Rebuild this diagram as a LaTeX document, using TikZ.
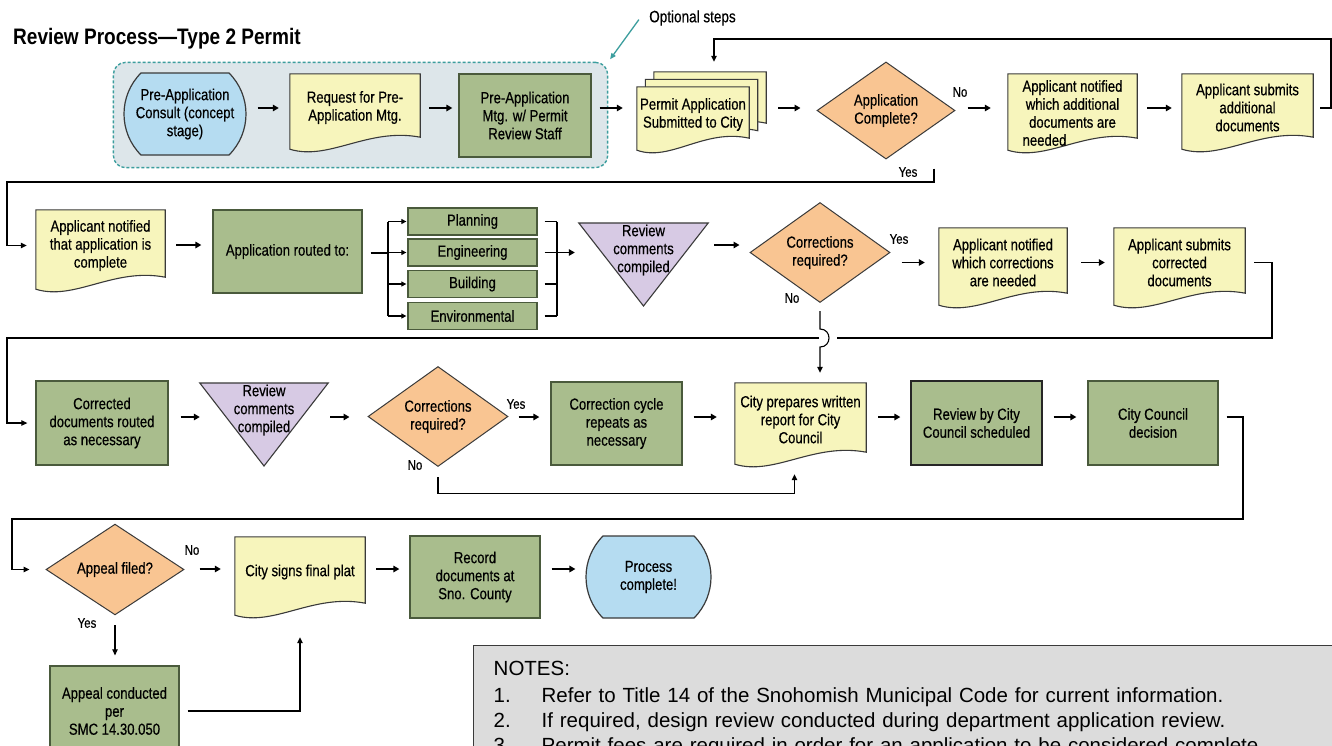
\documentclass[tikz,border=0pt]{standalone}
\usepackage{fontspec}
\setmainfont{Liberation Sans}
\newfontfamily\narrowfont[FakeStretch=0.82,FakeBold=0.5]{Liberation Sans}
\newfontfamily\headfont[FakeStretch=0.85]{Liberation Sans}
\usetikzlibrary{shapes.geometric, shapes.misc, arrows.meta, fit, calc}

\definecolor{termfill}{HTML}{B5DCF1}
\definecolor{docfill}{HTML}{F7F5BC}
\definecolor{procfill}{HTML}{A9BD8D}
\definecolor{procline}{HTML}{4A5A3C}
\definecolor{decfill}{HTML}{F9C592}
\definecolor{trifill}{HTML}{D7CAE4}
\definecolor{optfill}{HTML}{DDE6EA}
\definecolor{optline}{HTML}{3C9E9E}
\definecolor{notefill}{HTML}{DCDCDC}
\definecolor{inkline}{HTML}{3A3A3A}

\pgfdeclarelayer{back}
\pgfdeclarelayer{shapes}
\pgfsetlayers{back,shapes,main}

\tikzstyle{box text}=[font=\narrowfont\fontsize{16}{18}\selectfont, align=center, inner sep=1pt]
\tikzstyle{proc}=[box text, draw=procline, fill=procfill, line width=1.3pt]
\tikzstyle{term}=[box text, rounded rectangle, rounded rectangle arc length=90,
        draw=inkline, fill=termfill, line width=1.2pt]
\tikzstyle{decision}=[box text, diamond, draw=inkline, fill=decfill, line width=1pt, inner sep=0pt]
\tikzstyle{doc}=[box text]
\tikzstyle{tri}=[box text, inner xsep=0pt]
\tikzstyle{docshape}=[draw=inkline, fill=docfill, line width=1.1pt]
\tikzstyle{trishape}=[draw=inkline, fill=trifill, line width=1.1pt]
\tikzstyle{tag}=[font=\narrowfont\fontsize{14}{15}\selectfont, inner sep=1pt]

% document outline with a wavy foot, drawn under the node
\newcommand{\docback}[2][0]{%
  \begin{pgfonlayer}{shapes}
    \filldraw[docshape] (#2.north west) -- (#2.north east)
      -- ([yshift=4pt+#1pt]#2.south east)
      .. controls ($(#2.south west)!0.6!(#2.south east)+(0,-14-#1)$)
      and ($(#2.south west)!0.3!(#2.south east)+(0,20-#1)$)
      .. ([yshift=-8pt+#1pt]#2.south west) -- cycle;
  \end{pgfonlayer}}
% downward triangle round a text node
\newcommand{\triback}[1]{%
  \begin{pgfonlayer}{shapes}
    \filldraw[trishape] ([yshift=27pt]#1.west) -- ([yshift=27pt]#1.east)
      -- ([yshift=-56pt]#1.center) -- cycle;
  \end{pgfonlayer}}

\begin{document}
\begin{tikzpicture}[x=1pt, y=-1pt,
    flow/.style={-{Triangle[length=6pt,width=6.5pt]}, line width=1.8pt,
        shorten <=11pt, shorten >=11pt},
    wire/.style={line width=1.1pt},
    feed/.style={wire, -{Triangle[length=5pt,width=5pt]}, shorten >=1pt},
    backline/.style={wire, -{Triangle[length=6pt,width=5.5pt]}, shorten >=3pt},
    optbox/.style={draw=optline, fill=optfill, line width=1.4pt,
        dash pattern=on 3pt off 2pt, rounded corners=12pt,
        inner xsep=10pt, inner ysep=10pt},
    notebox/.style={draw=inkline, fill=notefill, line width=1.4pt, align=left,
        font=\fontsize{20.5}{25}\selectfont, text width=870pt,
        inner xsep=20pt, inner ysep=15pt}]
    \useasboundingbox (0,0) rectangle (1332,745);
    \begin{pgfonlayer}{back}
        \fill[white] (0,0) rectangle (1332,745);
    \end{pgfonlayer}

    \node[anchor=base west, inner sep=0pt,
        font=\headfont\bfseries\fontsize{22.4}{26}\selectfont] (title) at (13,44)
        {Review Process—Type 2 Permit};

    % row coordinates
    \coordinate (rowA) at (0,108);
    \coordinate (rowB) at (0,245);
    \coordinate (rowC) at (0,417);
    \coordinate (rowD) at (0,569);

    % first row
    \node[term, minimum width=124, minimum height=82] (pre) at (185,114) {Pre-Application\\Consult (concept\\stage)};
    \node[doc, minimum width=130, minimum height=67] (req) at (355,107.5) {Request for Pre-\\Application Mtg.};
    \node[proc, minimum width=132, minimum height=83] (mtg) at (525,115.5) {Pre-Application\\Mtg. w/ Permit\\Review Staff};
    \node[doc, minimum width=112, minimum height=55] (sub3) at (710,99.5) {};
    \node[doc, minimum width=112, minimum height=55] (sub2) at (701.5,107) {};
    \node[doc, minimum width=112, minimum height=55] (sub) at (693,114.5) {Permit Application\\Submitted to City};
    \node[decision, minimum width=138, minimum height=95] (comp) at (886,110.5) {Application\\Complete?};
    \node[doc, minimum width=129, minimum height=78] (addN) at (1072.5,113) {Applicant notified\\which additional\\documents are\\needed\hspace*{56pt}};
    \node[doc, minimum width=131, minimum height=67] (addS) at (1247.5,107.5) {Applicant submits\\additional\\documents};
    \docback{req}
    \docback{sub3}
    \docback{sub2}
    \docback{sub}
    \docback[10]{addN}
    \docback{addS}

    \coordinate (mtgR) at ([xshift=6pt]mtg.east);
    \begin{pgfonlayer}{back}
        \node[optbox, fit=(pre)(mtg)(mtgR)] (opt) {};
    \end{pgfonlayer}
    \node[tag, font=\narrowfont\fontsize{16.5}{17}\selectfont] (optl) at (692.5,18) {Optional steps};
    \draw[optline, line width=1.3pt, -{Triangle[length=6pt,width=5pt]}, shorten <=2pt, shorten >=3pt]
        ([xshift=-8pt]optl.west) -- (opt.north east);

    % second row
    \node[doc, minimum width=129, minimum height=71] (okN) at (100.5,245.5) {Applicant notified\\that application is\\complete};
    \node[proc, minimum width=149, minimum height=83] (route) at (287.5,251.5) {Application routed to:};
    \node[proc, minimum width=129, minimum height=27] (plan) at (472.5,221.5) {Planning};
    \node[proc, minimum width=129, minimum height=27] (eng) at (472.5,252.5) {Engineering};
    \node[proc, minimum width=129, minimum height=27] (bld) at (472.5,284) {Building};
    \node[proc, minimum width=129, minimum height=27] (env) at (472.5,316) {Environmental};
    \node[tri, minimum width=129] (revA) at (643.5,250) {Review\\comments\\compiled};
    \node[decision, minimum width=140, minimum height=85] (fixQ) at (820,252.5) {Corrections\\required?};
    \node[doc, minimum width=128, minimum height=69] (fixN) at (1003,262.5) {Applicant notified\\which corrections\\are needed};
    \node[doc, minimum width=131, minimum height=69] (fixS) at (1179.5,262.5) {Applicant submits\\corrected\\documents};
    \docback{okN}
    \triback{revA}
    \docback{fixN}
    \docback{fixS}

    % third row
    \node[proc, minimum width=132, minimum height=84] (cdoc) at (102,423) {Corrected\\documents routed\\as necessary};
    \node[tri, minimum width=128] (revB) at (264,410) {Review\\comments\\compiled};
    \node[decision, minimum width=140, minimum height=83] (fixR) at (438,416.5) {Corrections\\required?};
    \node[proc, minimum width=131, minimum height=83] (recyc) at (616.5,423.5) {Correction cycle\\repeats as\\necessary};
    \node[doc, minimum width=131, minimum height=73] (report) at (800.5,419.5) {City prepares written\\report for City\\Council};
    \node[proc, draw=black!85, minimum width=131, minimum height=84] (sched) at (976.5,423) {Review by City\\Council scheduled};
    \node[proc, minimum width=130, minimum height=84] (decide) at (1153,423) {City Council\\decision};
    \triback{revB}
    \docback{report}

    % fourth row
    \node[decision, minimum width=138, minimum height=85] (appeal) at (115,569.5) {Appeal filed?};
    \node[doc, minimum width=130, minimum height=70] (sign) at (300,572) {City signs final plat};
    \node[proc, minimum width=130, minimum height=82] (record) at (475,577) {Record\\documents at\\Sno. County};
    \node[term, minimum width=127, minimum height=82] (done) at (648.5,577) {Process\\complete!};
    \node[proc, minimum width=129, minimum height=90] (apc) at (114.5,711) {Appeal conducted\\per\\SMC 14.30.050};
    \docback{sign}

    % yes / no
    \node[tag] (noA) at (960,92) {No};
    \node[tag] (yesA) at (908,172) {Yes};
    \node[tag] (yesB) at (899,239) {Yes};
    \node[tag] (noB) at (792,298) {No};
    \node[tag] (yesC) at (516,404) {Yes};
    \node[tag] (noC) at (415,465) {No};
    \node[tag] (noD) at (192,550) {No};
    \node[tag] (yesD) at (87,623) {Yes};

    % notes
    \node[notebox, anchor=north west] (notes) at (473,645) {NOTES:\\[2pt]
        \makebox[48pt][l]{1.}Refer to Title 14 of the Snohomish Municipal Code for current information.\\
        \makebox[48pt][l]{2.}If required, design review conducted during department application review.\\
        \makebox[48pt][l]{3.}Permit fees are required in order for an application to be considered complete.};

    % first row arrows
    \draw[flow] (pre.east |- rowA) -- (req.west |- rowA);
    \draw[flow, shorten <=9pt, shorten >=6pt] (req.east |- rowA) -- (mtg.west |- rowA);
    \draw[flow, shorten <=8pt, shorten >=14pt] (mtg.east |- rowA) -- (sub.west |- rowA);
    \draw[flow, shorten <=12pt, shorten >=16pt] (sub3.east |- rowA) -- (comp.west |- rowA);
    \draw[flow, shorten <=12pt, shorten >=17pt] (comp.east |- rowA) -- (addN.west |- rowA);
    \draw[flow, shorten <=10pt, shorten >=10pt] (addN.east |- rowA) -- (addS.west |- rowA);
    \coordinate (loopA) at (1331,39);
    \draw[backline, shorten <=7pt, shorten >=10pt] (addS.east |- rowA) -| (loopA) -| ([xshift=4pt]sub3.north);
    \coordinate (leftA) at (7,182);
    \draw[backline, shorten >=9pt] ([xshift=48pt,yshift=-9pt]comp.south) |- (leftA) |- (okN.west);

    % second row arrows
    \draw[flow] (okN.east |- rowB) -- (route.west |- rowB);
    \coordinate (splitL) at (388,253);
    \coordinate (joinR) at (557,252.5);
    \draw[wire, shorten <=8pt] (route.east |- splitL) -- (splitL);
    \draw[wire] (splitL |- plan.west) -- (splitL |- env.west);
    \draw[wire] (joinR |- plan.east) -- (joinR |- env.east);
    \foreach \dep in {plan,eng,bld,env}{
        \draw[feed] (splitL |- \dep.west) -- (\dep.west);
        \draw[wire, shorten <=7pt] (\dep.east) -- (joinR |- \dep.east);
    }
    \draw[flow, shorten <=0pt, shorten >=4pt] (joinR) -- (revA.west |- joinR);
    \draw[flow, shorten <=6pt, shorten >=10pt] (revA.east |- rowB) -- (fixQ.west |- rowB);
    \draw[flow, shorten <=11pt, shorten >=14pt] (fixQ.east |- fixN.west) -- (fixN.west);
    \draw[flow, shorten <=14pt, shorten >=9pt] (fixN.east) -- (fixS.west);
    \coordinate (loopB) at (1272,338);
    \coordinate (leftB) at (7,338);
    \coordinate (hop) at (fixQ.south |- loopB);
    \draw[wire, shorten <=9pt] (fixS.east) -| (loopB) -- ([xshift=17pt]hop);
    \draw[backline, shorten >=8pt] ([xshift=-1pt]hop) -- (leftB) |- (cdoc.west);
    \draw[backline, shorten >=10pt] ([yshift=-8pt]fixQ.south) -- ([yshift=9pt]hop)
        .. controls +(12,0) and +(12,0) .. ([yshift=-9pt]hop) -- (fixQ.south |- report.north);

    % third row arrows
    \draw[flow, shorten <=12pt, shorten >=0pt] (cdoc.east |- rowC) -- (revB.west |- rowC);
    \draw[flow, shorten <=2pt, shorten >=18pt] (revB.east |- rowC) -- (fixR.west |- rowC);
    \draw[flow, shorten <=10pt, shorten >=11pt] (fixR.east |- rowC) -- (recyc.west |- rowC);
    \draw[flow, shorten <=11pt, shorten >=18pt] (recyc.east |- rowC) -- (report.west |- rowC);
    \draw[flow, shorten <=12pt, shorten >=10pt] (report.east |- rowC) -- (sched.west |- rowC);
    \draw[flow] (sched.east |- rowC) -- (decide.west |- rowC);
    \draw[backline, shorten >=18pt] ([yshift=-10pt]fixR.south) |- ([xshift=-6pt,yshift=-37pt]report.south) -- ([xshift=-6pt]report.south);
    \coordinate (loopC) at (1243,519);
    \coordinate (leftC) at (12,519);
    \draw[backline, shorten <=8pt, shorten >=16pt] (decide.east |- rowC) -| (loopC) -- (leftC) |- (appeal.west);

    % fourth row arrows
    \draw[flow, shorten <=15pt, shorten >=14pt] (appeal.east |- rowD) -- (sign.west |- rowD);
    \draw[flow, shorten <=11pt, shorten >=10pt] (sign.east |- rowD) -- (record.west |- rowD);
    \draw[flow, shorten <=11pt, shorten >=10pt] (record.east |- rowD) -- (done.west |- rowD);
    \draw[backline, shorten >=10pt] ([yshift=-10pt]appeal.south) -- (appeal.south |- apc.north);
    \draw[backline, shorten <=8pt, shorten >=30pt] (apc.east) -| (sign.south);
\end{tikzpicture}
\end{document}
